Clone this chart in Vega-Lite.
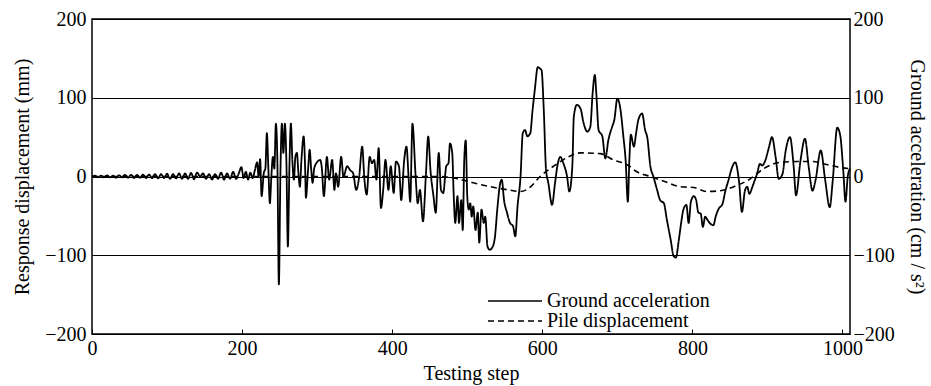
{
  "$schema": "https://vega.github.io/schema/vega-lite/v6.json",
  "width": 758,
  "height": 315,
  "autosize": {"type": "none"},
  "padding": {"left": 92, "top": 19, "right": 81, "bottom": 52},
  "background": "white",
  "config": {
    "font": "Liberation Serif, Times New Roman, serif",
    "view": {"stroke": "black", "strokeWidth": 1.5},
    "axis": {
      "labelFont": "Liberation Serif, Times New Roman, serif",
      "titleFont": "Liberation Serif, Times New Roman, serif",
      "labelFontSize": 20,
      "titleFontSize": 20,
      "labelColor": "black",
      "titleColor": "black",
      "titleFontWeight": "normal",
      "domain": false
    },
    "legend": {"labelFont": "Liberation Serif, Times New Roman, serif", "labelFontSize": 20, "labelColor": "black", "padding": 0, "labelLimit": 400}
  },
  "datasets": {
    "ground": [
      {"step":0,"v":0},{"step":4,"v":1},{"step":8,"v":-1},{"step":12,"v":1},{"step":16,"v":-1},{"step":20,"v":1.5},{"step":24,"v":-1},{"step":28,"v":1},{"step":32,"v":-1.5},{"step":36,"v":1.5},{"step":40,"v":-1},{"step":44,"v":2},{"step":48,"v":-1.5},{"step":52,"v":2},{"step":56,"v":-2},{"step":60,"v":2},{"step":64,"v":-1.5},{"step":68,"v":2.5},{"step":72,"v":-2},{"step":76,"v":2.5},{"step":80,"v":-2},{"step":84,"v":3},{"step":88,"v":-2.5},{"step":92,"v":3},{"step":96,"v":-2},{"step":100,"v":3.5},{"step":104,"v":-3},{"step":108,"v":3},{"step":112,"v":-2.5},{"step":116,"v":4},{"step":120,"v":-3},{"step":124,"v":4},{"step":128,"v":-3},{"step":132,"v":4.5},{"step":136,"v":-3.5},{"step":140,"v":5},
      {"step":144,"v":0},{"step":148,"v":4},{"step":152,"v":-3},{"step":156,"v":3},{"step":160,"v":-4},{"step":164,"v":3},{"step":168,"v":-3},{"step":172,"v":5},{"step":176,"v":-4},{"step":180,"v":4},{"step":184,"v":-3},{"step":188,"v":6},{"step":192,"v":-3},{"step":196,"v":5},{"step":199,"v":12},{"step":202,"v":-2},{"step":205,"v":6},{"step":208,"v":-4},{"step":211,"v":5},{"step":214,"v":-2},{"step":217,"v":8},{"step":220,"v":18},{"step":222,"v":0},{"step":224,"v":22},{"step":226,"v":-25},{"step":229,"v":5},{"step":231,"v":10},{"step":233,"v":55},{"step":235,"v":10},{"step":237,"v":-34},{"step":239,"v":0},{"step":241,"v":25},{"step":243,"v":10},{"step":245,"v":67},{"step":247,"v":20},{"step":249,"v":-137},{"step":251,"v":0},{"step":253,"v":67},{"step":255,"v":30},{"step":257,"v":67},{"step":259,"v":20},{"step":261,"v":-89},{"step":263,"v":10},{"step":265,"v":67},{"step":267,"v":20},{"step":269,"v":-4},{"step":271,"v":25},{"step":273,"v":30},{"step":275,"v":5},{"step":277,"v":-13},{"step":279,"v":20},{"step":282,"v":51},{"step":284,"v":10},{"step":285,"v":-27},{"step":288,"v":10},{"step":290,"v":34},{"step":292,"v":10},{"step":294,"v":-8},{"step":296,"v":10},{"step":299,"v":17},
      {"step":304,"v":21},{"step":306,"v":13},{"step":309,"v":-25},{"step":313,"v":25},{"step":316,"v":-4},{"step":320,"v":21},{"step":323,"v":-17},{"step":325,"v":4},{"step":328,"v":-13},{"step":332,"v":25},{"step":335,"v":0},{"step":340,"v":13},{"step":344,"v":8},{"step":348,"v":4},{"step":352,"v":-17},{"step":356,"v":0},{"step":360,"v":38},{"step":363,"v":-4},{"step":366,"v":-23},{"step":370,"v":25},{"step":373,"v":17},{"step":376,"v":21},{"step":379,"v":-4},{"step":382,"v":36},{"step":385,"v":-40},{"step":388,"v":-17},{"step":391,"v":21},{"step":395,"v":-17},{"step":398,"v":13},{"step":402,"v":-21},{"step":405,"v":19},{"step":409,"v":13},{"step":412,"v":-30},{"step":416,"v":21},{"step":419,"v":38},{"step":422,"v":-4},{"step":424,"v":-32},{"step":427,"v":67},{"step":431,"v":4},{"step":434,"v":-34},{"step":437,"v":-17},{"step":441,"v":-57},{"step":445,"v":4},{"step":448,"v":51},{"step":451,"v":8},{"step":455,"v":-25},{"step":458,"v":-46},{"step":462,"v":30},{"step":465,"v":-17},{"step":468,"v":-21},{"step":472,"v":13},{"step":475,"v":17},
      {"step":477,"v":42},{"step":480,"v":30},{"step":482,"v":-25},{"step":484,"v":-59},{"step":487,"v":-25},{"step":489,"v":-59},{"step":492,"v":-30},{"step":494,"v":-68},{"step":496,"v":21},{"step":498,"v":46},{"step":500,"v":-25},{"step":502,"v":-42},{"step":504,"v":-34},{"step":506,"v":-51},{"step":508,"v":-38},{"step":511,"v":-68},{"step":514,"v":-46},{"step":516,"v":-84},{"step":519,"v":-42},{"step":522,"v":-59},{"step":524,"v":-51},{"step":527,"v":-89},{"step":530,"v":-93},{"step":534,"v":-89},{"step":537,"v":-76},{"step":540,"v":-42},{"step":544,"v":-8},{"step":546,"v":-4},{"step":549,"v":-30},{"step":553,"v":-46},{"step":557,"v":-59},{"step":561,"v":-63},{"step":564,"v":-76},{"step":567,"v":-38},{"step":571,"v":0},{"step":574,"v":55},{"step":577,"v":59},{"step":580,"v":51},{"step":584,"v":55},{"step":587,"v":84},{"step":590,"v":110},{"step":594,"v":139},{"step":597,"v":137},{"step":599,"v":135},{"step":602,"v":84},{"step":605,"v":8},{"step":608,"v":-8},{"step":613,"v":-36},{"step":617,"v":-8},{"step":620,"v":13},
      {"step":624,"v":25},{"step":628,"v":17},{"step":633,"v":0},{"step":636,"v":-19},{"step":640,"v":13},{"step":642,"v":76},{"step":646,"v":91},{"step":651,"v":86},{"step":655,"v":68},{"step":660,"v":57},{"step":664,"v":63},{"step":667,"v":105},{"step":670,"v":129},{"step":672,"v":105},{"step":675,"v":59},{"step":680,"v":51},{"step":684,"v":23},{"step":688,"v":46},{"step":693,"v":63},{"step":696,"v":72},{"step":700,"v":99},{"step":704,"v":86},{"step":708,"v":51},{"step":711,"v":21},{"step":714,"v":-32},{"step":716,"v":21},{"step":718,"v":53},{"step":722,"v":38},{"step":725,"v":55},{"step":728,"v":72},{"step":733,"v":80},{"step":737,"v":59},{"step":740,"v":49},{"step":744,"v":13},{"step":748,"v":0},{"step":753,"v":-17},{"step":757,"v":-30},{"step":762,"v":-34},{"step":766,"v":-55},{"step":771,"v":-80},{"step":775,"v":-101},{"step":778,"v":-103},{"step":782,"v":-80},{"step":785,"v":-59},{"step":788,"v":-42},{"step":792,"v":-36},{"step":795,"v":-59},{"step":798,"v":-32},{"step":802,"v":-25},{"step":805,"v":-30},{"step":808,"v":-46},
      {"step":811,"v":-47},{"step":814,"v":-64},{"step":817,"v":-51},{"step":820,"v":-55},{"step":824,"v":-60},{"step":828,"v":-62},{"step":831,"v":-51},{"step":835,"v":-41},{"step":840,"v":-35},{"step":844,"v":-18},{"step":848,"v":-5},{"step":853,"v":12},{"step":857,"v":18},{"step":862,"v":-5},{"step":866,"v":-45},{"step":870,"v":-18},{"step":873,"v":-13},{"step":876,"v":-22},{"step":880,"v":-13},{"step":883,"v":-5},{"step":886,"v":3},{"step":890,"v":16},{"step":893,"v":14},{"step":897,"v":20},{"step":902,"v":37},{"step":906,"v":50},{"step":911,"v":24},{"step":915,"v":-3},{"step":920,"v":3},{"step":924,"v":31},{"step":930,"v":50},{"step":935,"v":12},{"step":938,"v":-24},{"step":944,"v":20},{"step":950,"v":48},{"step":955,"v":12},{"step":960,"v":-18},{"step":964,"v":-5},{"step":971,"v":33},{"step":977,"v":-5},{"step":983,"v":-39},{"step":987,"v":-5},{"step":993,"v":62},{"step":997,"v":52},{"step":1001,"v":8},{"step":1004,"v":-32},{"step":1007,"v":0},{"step":1010,"v":10}
    ],
    "pile": [
      {"step":0,"v":0},{"step":200,"v":0},{"step":400,"v":0},{"step":460,"v":0},{"step":482,"v":-2},{"step":508,"v":-8},{"step":531,"v":-13},{"step":555,"v":-17},{"step":571,"v":-19},{"step":582,"v":-15},{"step":597,"v":0},{"step":615,"v":13},{"step":635,"v":25},{"step":651,"v":30},{"step":677,"v":29},{"step":695,"v":21},{"step":713,"v":15},{"step":726,"v":6},{"step":744,"v":0},{"step":762,"v":-6},{"step":784,"v":-13},{"step":802,"v":-14},{"step":819,"v":-19},{"step":837,"v":-18},{"step":855,"v":-13},{"step":877,"v":-3},{"step":895,"v":10},{"step":917,"v":18},{"step":940,"v":19},{"step":960,"v":19},{"step":980,"v":15},{"step":1000,"v":11},{"step":1010,"v":10}
    ]
  },
  "layer": [
    {
      "data": {"name": "pile"},
      "mark": {"type": "line", "color": "black", "strokeWidth": 1.6, "interpolate": "monotone"},
      "encoding": {
        "x": {"field": "step", "type": "quantitative", "scale": {"domain": [0, 1010], "nice": false, "zero": false},
          "axis": {"title": "Testing step", "values": [0, 200, 400, 600, 800, 1000], "format": "d", "tickSize": -5, "tickColor": "black", "labelPadding": 9, "titlePadding": 5, "grid": false, "labelFlush": false}},
        "y": {"field": "v", "type": "quantitative", "scale": {"domain": [-200, 200], "nice": false},
          "axis": {"title": "Response displacement (mm)", "orient": "left", "values": [-200, -100, 0, 100, 200], "format": "d", "ticks": false, "labelPadding": 6, "titlePadding": 12, "grid": true, "gridColor": "black", "gridOpacity": 1, "gridWidth": 1}},
        "strokeDash": {"datum": "Pile displacement", "type": "nominal",
          "scale": {"domain": ["Ground acceleration", "Pile displacement"], "range": [[1, 0], [6, 4]]},
          "legend": {"title": null, "orient": "none", "legendX": 413, "legendY": 272, "symbolType": "M-3,0H3", "symbolSize": 324, "symbolStrokeColor": "black", "symbolStrokeWidth": 1.6, "labelOffset": 22, "rowPadding": 0}}
      }
    },
    {
      "data": {"name": "ground"},
      "mark": {"type": "line", "color": "black", "strokeWidth": 1.8, "interpolate": "monotone"},
      "encoding": {
        "x": {"field": "step", "type": "quantitative"},
        "y": {"field": "v", "type": "quantitative", "scale": {"domain": [-200, 200], "nice": false},
          "axis": {"title": "Ground acceleration (cm / s²)", "orient": "right", "values": [-200, -100, 0, 100, 200], "format": "d", "ticks": false, "labelPadding": 3, "titlePadding": 12, "grid": false}},
        "strokeDash": {"datum": "Ground acceleration", "type": "nominal"}
      }
    }
  ],
  "resolve": {"scale": {"y": "independent"}}
}
